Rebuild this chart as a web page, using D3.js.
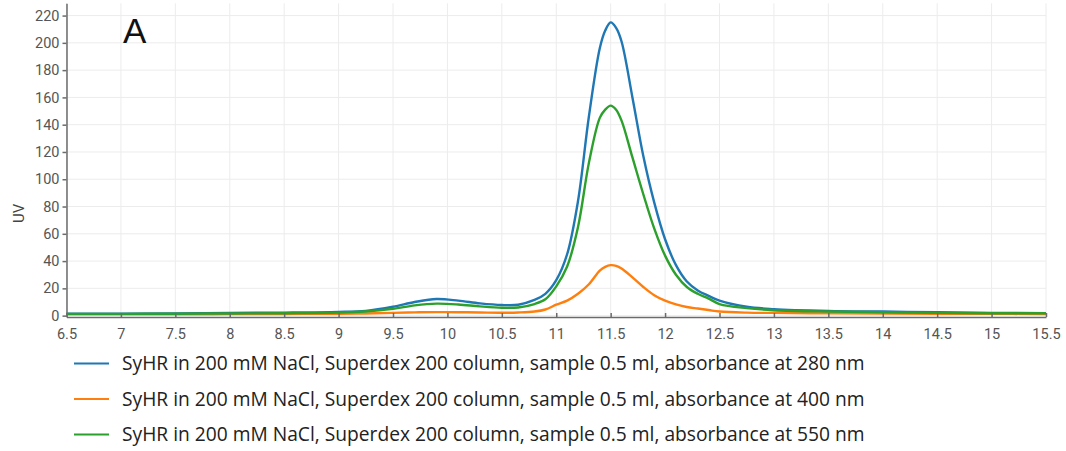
<!DOCTYPE html>
<html>
<head>
<meta charset="utf-8">
<script src="https://cdn.jsdelivr.net/npm/d3@7"></script>
<style>
    body { margin: 0; background: #fff; }
    svg { display: block; }
    .grid line { stroke: #ececec; stroke-width: 1; }
    .axis path, .axis line { stroke: #6b6b6b; stroke-width: 1.5; }
    .axis text { font-family: Roboto, sans-serif; font-size: 14.5px; fill: #555; }
    .trace { fill: none; stroke-width: 2.4; stroke-linejoin: round; }
</style>
</head>
<body>
<svg id="chart" width="1066" height="451"></svg>
<script>
// elution volume (ml)
const volume = [6.5, 7, 7.5, 8, 8.5, 9, 9.25, 9.5, 9.7, 9.9, 10.1, 10.3, 10.5, 10.65, 10.8, 10.9,
    11.0, 11.1, 11.2, 11.3, 11.4, 11.45, 11.5, 11.55, 11.6, 11.7, 11.8, 11.9, 12.0, 12.1, 12.2,
    12.3, 12.4, 12.5, 12.75, 13, 13.5, 14, 14.5, 15, 15.5];

const uv280 = [1.5, 1.5, 1.6, 2, 2.2, 2.7, 3.5, 6.5, 10, 12.2, 11, 9, 7.8, 8, 11.5, 16,
    26, 45, 84, 146, 196, 209, 215, 211, 201, 160, 117, 83, 56, 37, 25,
    18.5, 14.5, 11, 6.5, 4.8, 3.5, 3, 2.5, 2, 1.8];

const uv400 = [1, 1, 1, 1.1, 1.2, 1.4, 1.6, 2, 2.4, 2.6, 2.5, 2.3, 2.1, 2.3, 3, 4.5,
    8, 11, 16, 23, 33, 35.8, 37, 36.5, 34.5, 28, 21, 15, 11, 8.3, 6.3,
    5.2, 4.1, 3, 2.2, 2, 1.7, 1.5, 1.4, 1.3, 1.2];

const uv550 = [1.3, 1.3, 1.4, 1.6, 1.8, 2.2, 3, 5, 7.5, 8.8, 8.2, 6.8, 5.8, 6, 8.5, 12,
    21.5, 36, 65, 112, 145, 151, 154, 151, 143, 116, 89, 64, 44, 30, 21,
    16, 12.5, 8.5, 5.5, 4, 3, 2.5, 2, 1.8, 1.7];

const xTicks = [6.5, 7, 7.5, 8, 8.5, 9, 9.5, 10, 10.5, 11, 11.5, 12, 12.5, 13, 13.5, 14, 14.5, 15, 15.5];
const yTicks = [0, 20, 40, 60, 80, 100, 120, 140, 160, 180, 200, 220];

const seriesNames = [
    "SyHR in 200 mM NaCl, Superdex 200 column, sample 0.5 ml, absorbance at 280 nm",
    "SyHR in 200 mM NaCl, Superdex 200 column, sample 0.5 ml, absorbance at 400 nm",
    "SyHR in 200 mM NaCl, Superdex 200 column, sample 0.5 ml, absorbance at 550 nm"
];
const seriesColors = ["#1f77b4", "#ff7f0e", "#2ca02c"];

const series = [uv280, uv400, uv550].map((vals, i) => ({
    name: seriesNames[i],
    color: seriesColors[i],
    points: volume.map((v, j) => ({x: v, y: vals[j]}))
}));

const svg = d3.select("#chart");

const x = d3.scaleLinear().domain([6.5, 15.5]).range([66.5, 1046]);
const y = d3.scaleLinear().domain([-1, 229]).range([317, 3.3]);

// grid
const grid = svg.append("g").attr("class", "grid");
grid.selectAll("line.v").data(xTicks).enter().append("line")
    .attr("class", "v")
    .attr("x1", d => x(d)).attr("x2", d => x(d))
    .attr("y1", y.range()[1]).attr("y2", y.range()[0]);
grid.selectAll("line.h").data(yTicks).enter().append("line")
    .attr("class", "h")
    .attr("x1", x.range()[0]).attr("x2", x.range()[1])
    .attr("y1", d => y(d)).attr("y2", d => y(d));

// traces
const line = d3.line()
    .x(d => x(d.x))
    .y(d => y(d.y))
    .curve(d3.curveCatmullRom.alpha(0.5));

svg.append("g").selectAll("path")
    .data(series)
    .enter()
    .append("path")
    .attr("class", "trace")
    .attr("stroke", d => d.color)
    .attr("d", d => line(d.points));

// axes
const xAxis = svg.append("g")
    .attr("class", "axis")
    .attr("transform", `translate(0,${y.range()[0]})`)
    .call(d3.axisBottom(x).tickValues(xTicks).tickSizeInner(-4).tickSizeOuter(0).tickPadding(9).tickFormat(d3.format("")));
xAxis.selectAll("text").attr("dy", "0.9em");

svg.append("g")
    .attr("class", "axis")
    .attr("transform", `translate(${x.range()[0]},0)`)
    .call(d3.axisLeft(y).tickValues(yTicks).tickSizeInner(4).tickSizeOuter(0).tickPadding(3));

svg.append("text")
    .attr("transform", `translate(24,${y(75)}) rotate(-90)`)
    .attr("text-anchor", "middle")
    .style("font-family", "Roboto, sans-serif")
    .style("font-size", "15px")
    .style("fill", "#444")
    .text("UV");

svg.append("text")
    .attr("x", 123)
    .attr("y", 43)
    .style("font-family", "'Liberation Sans', Arial, sans-serif")
    .style("font-size", "35px")
    .style("fill", "#111")
    .text("A");

// legend
const legend = svg.append("g").selectAll("g")
    .data(series)
    .enter()
    .append("g")
    .attr("transform", (d, i) => `translate(0,${363.5 + i * 35.5})`);

legend.append("line")
    .attr("x1", 74).attr("x2", 109)
    .attr("stroke", d => d.color)
    .attr("stroke-width", 2.2);

const legendText = legend.append("text")
    .attr("x", 122)
    .attr("dy", "0.35em")
    .style("font-family", "'Open Sans', sans-serif")
    .style("font-size", "18px")
    .style("fill", "#222")
    .text(d => d.name);

// fit the legend text to the width it has in the original figure
const w = legendText.node().getComputedTextLength();
legendText.style("font-size", (18 * 743 / w).toFixed(2) + "px");
</script>
</body>
</html>
